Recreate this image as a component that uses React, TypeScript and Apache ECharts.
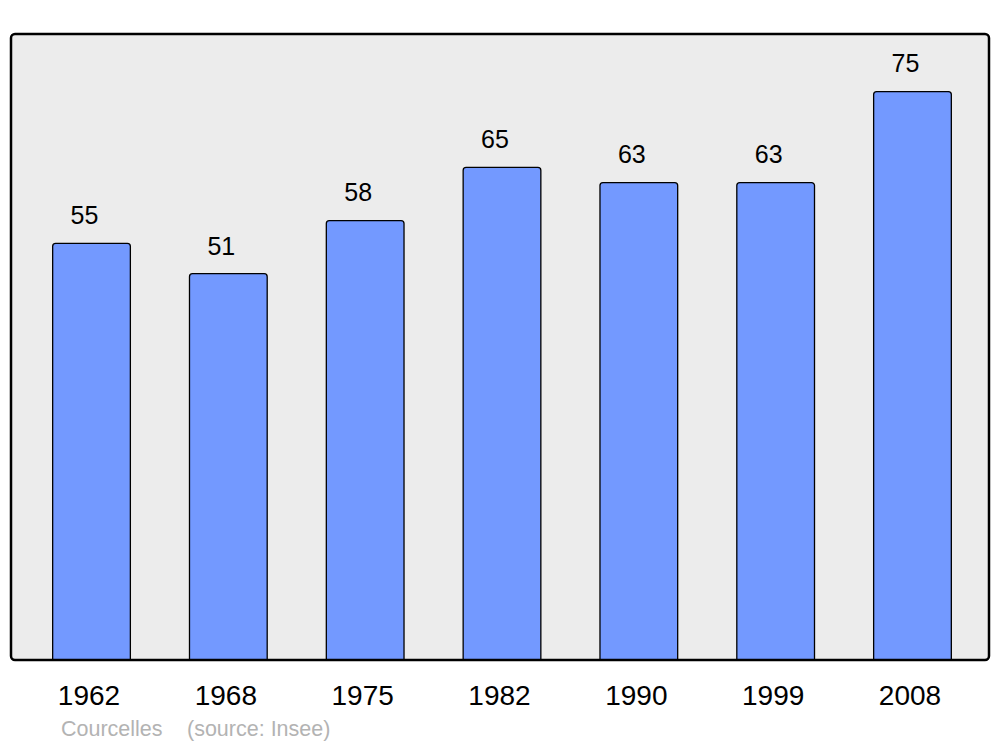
import React, { useEffect, useRef } from "react";
import * as echarts from "echarts";

const years = ["1962", "1968", "1975", "1982", "1990", "1999", "2008"];
const population = [55, 51, 58, 65, 63, 63, 75];
const footerPlace = "Courcelles";
const footerSource = "(source: Insee)";

export default function App() {
  const ref = useRef<HTMLDivElement>(null);
  useEffect(() => {
    const chart = echarts.init(ref.current!, null, { renderer: "svg" });
    chart.setOption({
      animation: false,
      backgroundColor: "#ffffff",
      graphic: [
        {
          type: "rect",
          z: -10,
          shape: { x: 11, y: 34, width: 978, height: 626, r: 4 },
          style: { fill: "#ececec", stroke: "#000", lineWidth: 2.5 },
          silent: true,
        },
        {
          type: "text",
          left: 61,
          top: 718,
          style: {
            text: footerPlace,
            fill: "#b3b3b3",
            font: '21.5px "Liberation Sans", Arial, sans-serif',
          },
        },
        {
          type: "text",
          left: 187,
          top: 718,
          style: {
            text: footerSource,
            fill: "#b3b3b3",
            font: '21.5px "Liberation Sans", Arial, sans-serif',
          },
        },
      ],
      grid: { left: 23.1, width: 957.8, top: 34, height: 626, containLabel: false },
      xAxis: {
        type: "category",
        data: years,
        axisLine: { show: false },
        axisTick: { show: false },
        axisLabel: {
          margin: 21,
          fontSize: 28,
          color: "#000",
          padding: [0, 5, 0, 0],
          fontFamily: '"Liberation Sans", Arial, sans-serif',
        },
      },
      yAxis: {
        type: "value",
        min: 0,
        max: 82.5,
        show: false,
        splitLine: { show: false },
      },
      series: [
        {
          type: "bar",
          data: population,
          barWidth: 79,
          itemStyle: {
            color: "#7399ff",
            borderColor: "#000",
            borderWidth: 1.3,
            borderRadius: [3, 3, 0, 0],
          },
          label: {
            show: true,
            position: "top",
            distance: 15,
            offset: [-7, 0],
            fontSize: 25,
            color: "#000",
            fontFamily: '"Liberation Sans", Arial, sans-serif',
          },
        },
      ],
    });
    return () => chart.dispose();
  }, []);
  return (
    <div
      ref={ref}
      style={{ position: "fixed", left: 0, top: 0, width: 1000, height: 747 }}
    />
  );
}
